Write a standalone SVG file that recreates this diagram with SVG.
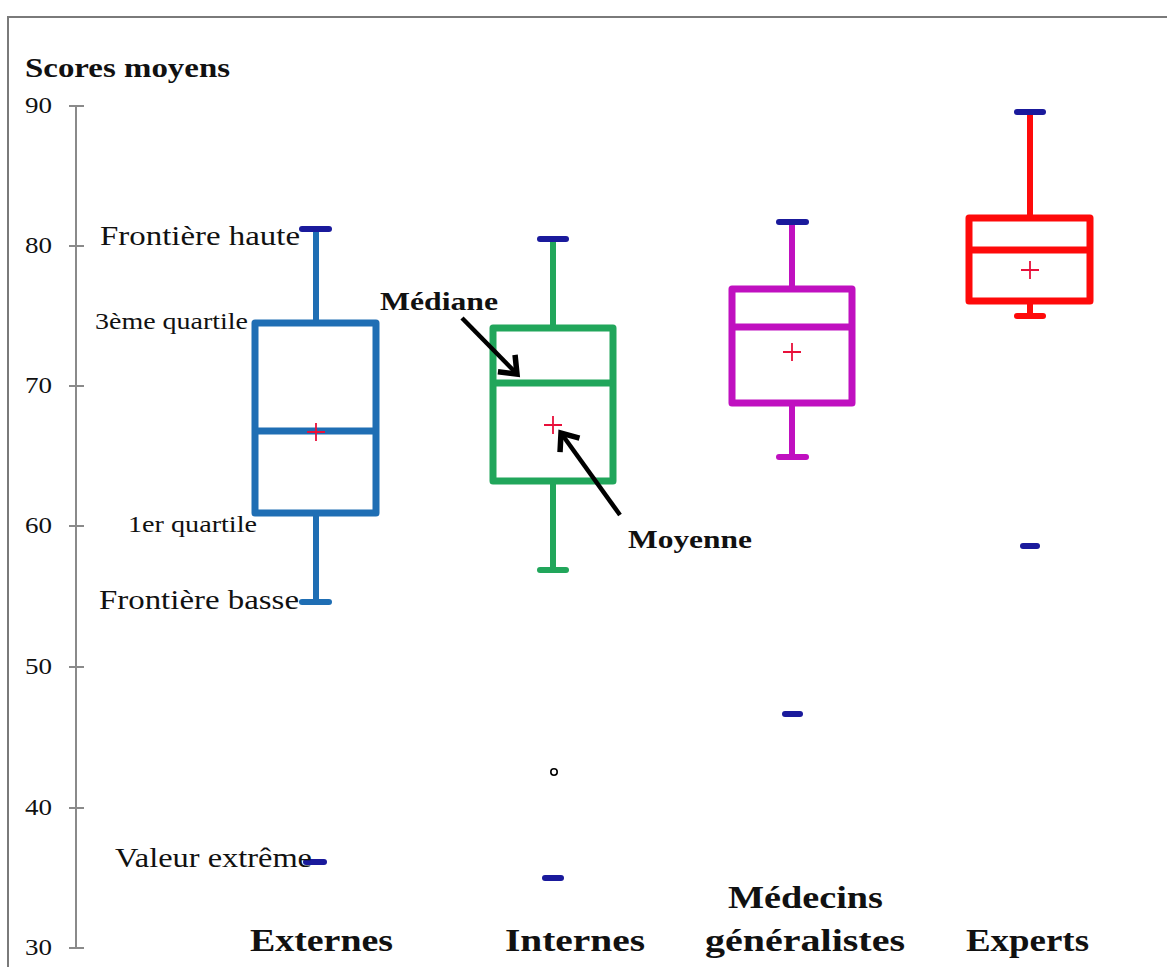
<svg xmlns="http://www.w3.org/2000/svg" width="1167" height="967" viewBox="0 0 1167 967">
<style>
.t{font-family:"Liberation Serif","Times New Roman",serif;fill:#111}
.b{font-weight:bold}
.ax{stroke:#8a8a8a;stroke-width:2;fill:none}
.box{fill:none;stroke-width:7;stroke-linejoin:round}
.wh{stroke-width:6;fill:none}
.cap{stroke-width:6;stroke-linecap:round}
.navy{stroke:#1a1a9c}
.mean{stroke:#e8103a;stroke-width:1.8}
.arr{stroke:#000;stroke-width:4.5;fill:none}
</style>
<defs>
<marker id="ah" markerUnits="userSpaceOnUse" markerWidth="34" markerHeight="34" refX="19" refY="17" orient="auto" viewBox="0 0 34 34">
<path d="M4,5 L19,17 L4,29" fill="none" stroke="#000" stroke-width="5.5" stroke-linejoin="miter"/>
</marker>
</defs>
<rect width="1167" height="967" fill="#fff"/>
<g id="frame">
<path d="M8,980 V17 H1180" fill="none" stroke="#7a7a7a" stroke-width="2"/>
</g>
<g id="axis">
<line class="ax" x1="76" y1="106" x2="76" y2="948"/>
<g class="ax">
<line x1="69" y1="106" x2="84" y2="106"/>
<line x1="69" y1="246" x2="84" y2="246"/>
<line x1="69" y1="386" x2="84" y2="386"/>
<line x1="69" y1="526" x2="84" y2="526"/>
<line x1="69" y1="667" x2="84" y2="667"/>
<line x1="69" y1="808" x2="84" y2="808"/>
<line x1="69" y1="948" x2="84" y2="948"/>
</g>
<g class="t" font-size="24">
<text x="25" y="113" textLength="27" lengthAdjust="spacingAndGlyphs">90</text>
<text x="25" y="253" textLength="27" lengthAdjust="spacingAndGlyphs">80</text>
<text x="25" y="393" textLength="27" lengthAdjust="spacingAndGlyphs">70</text>
<text x="25" y="533" textLength="27" lengthAdjust="spacingAndGlyphs">60</text>
<text x="25" y="674" textLength="27" lengthAdjust="spacingAndGlyphs">50</text>
<text x="25" y="815" textLength="27" lengthAdjust="spacingAndGlyphs">40</text>
<text x="25" y="955" textLength="27" lengthAdjust="spacingAndGlyphs">30</text>
</g>
<text class="t b" x="25" y="77" font-size="28" textLength="205" lengthAdjust="spacingAndGlyphs">Scores moyens</text>
</g>
<g id="externes" stroke="#1f6eb4">
<line class="wh" x1="316" y1="229" x2="316" y2="323"/>
<line class="wh" x1="316" y1="513" x2="316" y2="602"/>
<rect class="box" x="255" y="323" width="121" height="190"/>
<line class="box" x1="255" y1="431" x2="376" y2="431"/>
<line class="cap navy" x1="302" y1="229" x2="329" y2="229"/>
<line class="cap" x1="302" y1="602" x2="329" y2="602"/>
<path class="mean" d="M307,432 H325 M316,423 V441"/>
<line class="cap navy" x1="306" y1="862" x2="324" y2="862" stroke-width="5"/>
</g>
<g id="internes" stroke="#21a65b">
<line class="wh" x1="553" y1="239" x2="553" y2="328"/>
<line class="wh" x1="553" y1="481" x2="553" y2="570"/>
<rect class="box" x="493" y="328" width="120" height="153"/>
<line class="box" x1="493" y1="383" x2="613" y2="383"/>
<line class="cap navy" x1="540" y1="239" x2="566" y2="239"/>
<line class="cap" x1="540" y1="570" x2="566" y2="570"/>
<path class="mean" d="M544,425 H562 M553,416 V434"/>
<circle cx="554" cy="772" r="3.2" fill="#fff" stroke="#000" stroke-width="1.6"/>
<line class="cap navy" x1="545" y1="878" x2="561" y2="878" stroke-width="5"/>
</g>
<g id="medecins" stroke="#c010c0">
<line class="wh" x1="792" y1="222" x2="792" y2="289"/>
<line class="wh" x1="792" y1="403" x2="792" y2="457"/>
<rect class="box" x="732" y="289" width="120" height="114"/>
<line class="box" x1="732" y1="327" x2="852" y2="327"/>
<line class="cap navy" x1="779" y1="222" x2="806" y2="222"/>
<line class="cap" x1="779" y1="457" x2="806" y2="457"/>
<path class="mean" d="M783,352 H801 M792,343 V361"/>
<line class="cap navy" x1="785" y1="714" x2="800" y2="714" stroke-width="5"/>
</g>
<g id="experts" stroke="#fe0a0a">
<line class="wh" x1="1030" y1="112" x2="1030" y2="218"/>
<line class="wh" x1="1030" y1="301" x2="1030" y2="316"/>
<rect class="box" x="969" y="218" width="121" height="83"/>
<line class="box" x1="969" y1="250" x2="1090" y2="250"/>
<line class="cap navy" x1="1017" y1="112" x2="1043" y2="112"/>
<line class="cap" x1="1017" y1="316" x2="1043" y2="316"/>
<path class="mean" d="M1021,270 H1039 M1030,261 V279" stroke="#ff0000"/>
<line class="cap navy" x1="1023" y1="546" x2="1037" y2="546" stroke-width="5"/>
</g>
<g id="connectors">
<line class="arr" x1="462" y1="318" x2="517" y2="374" marker-end="url(#ah)"/>
<line class="arr" x1="620" y1="515" x2="561" y2="433" marker-end="url(#ah)"/>
</g>
<g id="annotations" class="t">
<text x="100" y="245" font-size="28" textLength="200" lengthAdjust="spacingAndGlyphs">Frontière haute</text>
<text x="95" y="329" font-size="23" textLength="153" lengthAdjust="spacingAndGlyphs">3ème quartile</text>
<text x="128" y="532" font-size="23" textLength="129" lengthAdjust="spacingAndGlyphs">1er quartile</text>
<text x="99" y="609" font-size="28" textLength="200" lengthAdjust="spacingAndGlyphs">Frontière basse</text>
<text x="115" y="867" font-size="27" textLength="197" lengthAdjust="spacingAndGlyphs">Valeur extrême</text>
<text class="b" x="380" y="310" font-size="26" textLength="118" lengthAdjust="spacingAndGlyphs">Médiane</text>
<text class="b" x="628" y="548" font-size="26" textLength="124" lengthAdjust="spacingAndGlyphs">Moyenne</text>
</g>
<g id="categories" class="t b" font-size="32">
<text x="250" y="951" textLength="143" lengthAdjust="spacingAndGlyphs">Externes</text>
<text x="505" y="951" textLength="140" lengthAdjust="spacingAndGlyphs">Internes</text>
<text x="728" y="908" textLength="155" lengthAdjust="spacingAndGlyphs">Médecins</text>
<text x="705" y="951" textLength="200" lengthAdjust="spacingAndGlyphs">généralistes</text>
<text x="966" y="951" textLength="123" lengthAdjust="spacingAndGlyphs">Experts</text>
</g>
</svg>
